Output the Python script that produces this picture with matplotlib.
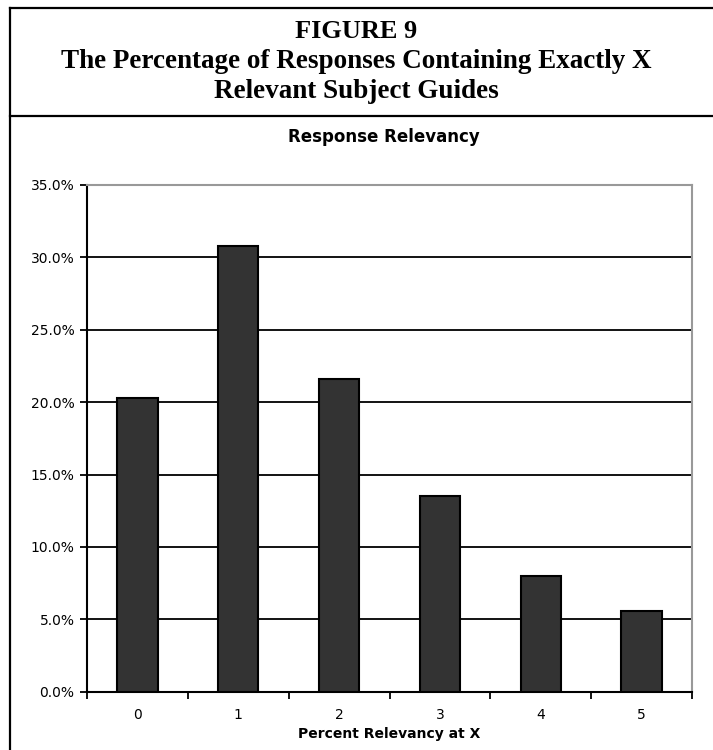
import matplotlib
matplotlib.use("Agg")
import matplotlib.pyplot as plt
from matplotlib.lines import Line2D
import numpy as np

# response relevancy: share of responses with exactly X relevant guides
categories = ["0", "1", "2", "3", "4", "5"]
percents = [20.3, 30.8, 21.6, 13.5, 8.0, 5.6]
yticks = [0, 5, 10, 15, 20, 25, 30, 35]

fig = plt.figure(figsize=(7.13, 7.5), dpi=100)
fig.patch.set_facecolor("white")

# frame around the figure block
W, H = 713.0, 750.0
def fx(px):
    return px / W
def fy(py):
    return 1 - py / H

for xs, ys in [([9.5, 9.5], [8, 750]),
               ([9.5, 713], [8, 8]),
               ([9.5, 713], [116, 116])]:
    fig.add_artist(Line2D([fx(x) for x in xs], [fy(y) for y in ys],
                          color="black", lw=1.6, transform=fig.transFigure))

serif = ["Liberation Serif", "DejaVu Serif"]
fig.text(0.5, fy(31), "FIGURE 9", ha="center", va="center",
         family=serif, fontweight="bold", fontsize=19)
fig.text(0.5, fy(62), "The Percentage of Responses Containing Exactly X",
         ha="center", va="center", family=serif, fontweight="bold", fontsize=19.5)
fig.text(0.5, fy(92), "Relevant Subject Guides", ha="center", va="center",
         family=serif, fontweight="bold", fontsize=19.5)

fig.text(fx(384), fy(137), "Response Relevancy", ha="center", va="center",
         family="DejaVu Sans", fontweight="bold", fontsize=12)

ax = fig.add_axes([fx(87), fy(691.7), fx(692) - fx(87), (691.7 - 185) / H])
x = np.arange(len(categories))
ax.bar(x, percents, width=0.4, color="#333333", edgecolor="black",
       linewidth=1.5, zorder=3)

ax.set_xlim(-0.5, len(categories) - 0.5)
ax.set_ylim(0, 35)
ax.set_yticks(yticks)
ax.set_yticklabels([f"{v:.1f}%" for v in yticks], fontsize=10)
for v in yticks[1:-1]:
    ax.axhline(v, color="black", lw=1.3, zorder=1)

# category ticks sit between the bars, labels at the bar centres
ax.set_xticks(np.arange(-0.5, len(categories)), minor=False)
ax.set_xticklabels([])
ax.set_xticks(x, minor=True)
ax.set_xticklabels(categories, minor=True, fontsize=10)
ax.tick_params(axis="x", which="major", direction="out", length=5, width=1.3)
ax.tick_params(axis="x", which="minor", length=0, pad=12)
ax.tick_params(axis="y", direction="out", length=5, width=1.3, pad=4)
ax.set_xlabel("Percent Relevancy at X", fontsize=10, fontweight="bold",
              labelpad=3)

for side in ["left", "bottom"]:
    ax.spines[side].set_color("black")
    ax.spines[side].set_linewidth(1.5)
for side in ["top", "right"]:
    ax.spines[side].set_color("#999999")
    ax.spines[side].set_linewidth(1.5)

fig.savefig("out.png", dpi=100)
